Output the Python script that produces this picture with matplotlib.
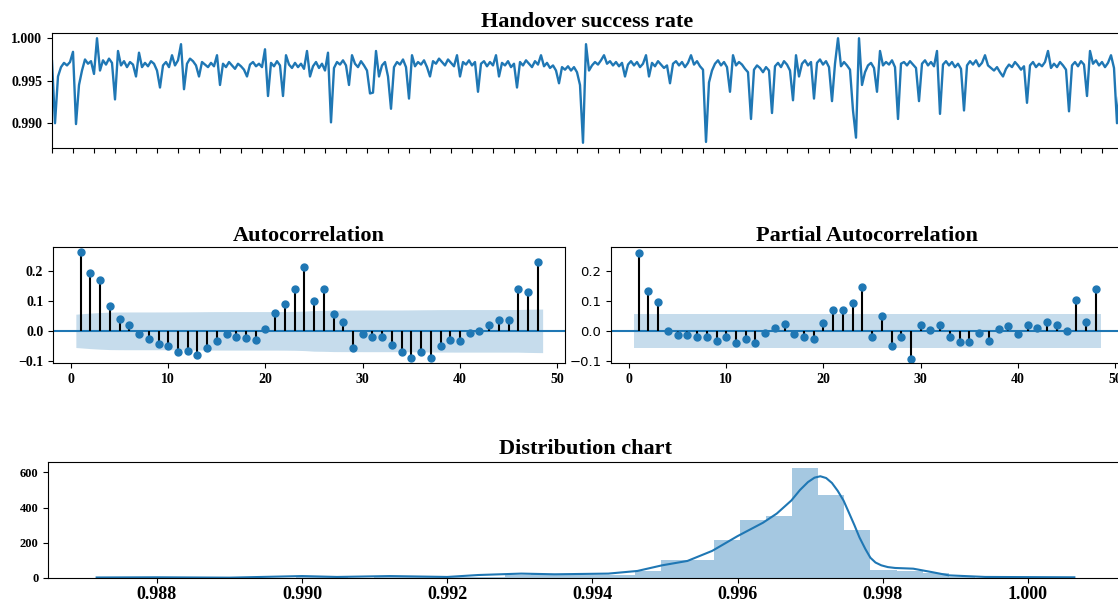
import numpy as np
import matplotlib
matplotlib.use("Agg")
import matplotlib.pyplot as plt
from matplotlib.ticker import MultipleLocator

# handover success rate, sampled roughly every 3 px of the original plot
hsr = [
    0.9973, 0.9900, 0.9955, 0.9966, 0.9971, 0.9968, 0.9972, 0.9984, 0.9899, 0.9945,
    0.9962, 0.9975, 0.9970, 0.9973, 0.9958, 1.0000, 0.9962, 0.9974, 0.9969, 0.9976,
    0.9971, 0.9928, 0.9985, 0.9968, 0.9973, 0.9966, 0.9972, 0.9969, 0.9955, 0.9983,
    0.9966, 0.9971, 0.9967, 0.9973, 0.9970, 0.9962, 0.9942, 0.9968, 0.9972, 0.9966,
    0.9980, 0.9968, 0.9974, 0.9993, 0.9940, 0.9970, 0.9976, 0.9973, 0.9968, 0.9955,
    0.9972, 0.9969, 0.9966, 0.9971, 0.9967, 0.9980, 0.9945, 0.9970, 0.9966, 0.9972,
    0.9968, 0.9964, 0.9970, 0.9967, 0.9963, 0.9955, 0.9969, 0.9972, 0.9967, 0.9970,
    0.9966, 0.9987, 0.9932, 0.9971, 0.9967, 0.9973, 0.9968, 0.9932, 0.9980, 0.9969,
    0.9965, 0.9971, 0.9966, 0.9970, 0.9964, 0.9985, 0.9955, 0.9967, 0.9972, 0.9965,
    0.9970, 0.9962, 0.9983, 0.9901, 0.9965, 0.9972, 0.9969, 0.9974, 0.9968, 0.9945,
    0.9980, 0.9970, 0.9966, 0.9973, 0.9968, 0.9962, 0.9935, 0.9936, 0.9985, 0.9955,
    0.9968, 0.9972, 0.9955, 0.9917, 0.9966, 0.9972, 0.9969, 0.9975, 0.9966, 0.9929,
    0.9980, 0.9967, 0.9972, 0.9969, 0.9974, 0.9966, 0.9955, 0.9973, 0.9970, 0.9976,
    0.9972, 0.9968, 0.9975, 0.9971, 0.9967, 0.9980, 0.9955, 0.9972, 0.9969, 0.9974,
    0.9968, 0.9972, 0.9937, 0.9970, 0.9973, 0.9967, 0.9972, 0.9968, 0.9980, 0.9955,
    0.9971, 0.9968, 0.9973, 0.9966, 0.9970, 0.9942, 0.9972, 0.9968, 0.9974, 0.9970,
    0.9966, 0.9973, 0.9969, 0.9980, 0.9967, 0.9971, 0.9965, 0.9968, 0.9962, 0.9947,
    0.9966, 0.9963, 0.9967, 0.9962, 0.9966, 0.9960, 0.9945, 0.9877, 0.9993, 0.9962,
    0.9968, 0.9972, 0.9969, 0.9974, 0.9980, 0.9970, 0.9973, 0.9968, 0.9972, 0.9967,
    0.9971, 0.9955, 0.9969, 0.9973, 0.9968, 0.9972, 0.9966, 0.9970, 0.9980, 0.9955,
    0.9971, 0.9967, 0.9973, 0.9969, 0.9965, 0.9968, 0.9947, 0.9970, 0.9973, 0.9968,
    0.9972, 0.9966, 0.9971, 0.9980, 0.9969, 0.9973, 0.9967, 0.9963, 0.9878, 0.9948,
    0.9962, 0.9970, 0.9974, 0.9968, 0.9972, 0.9966, 0.9937, 0.9980, 0.9968, 0.9972,
    0.9969, 0.9964, 0.9960, 0.9905, 0.9963, 0.9968, 0.9965, 0.9960, 0.9966, 0.9962,
    0.9912, 0.9967, 0.9971, 0.9966, 0.9973, 0.9969, 0.9962, 0.9927, 0.9980, 0.9955,
    0.9970, 0.9974, 0.9968, 0.9972, 0.9929, 0.9971, 0.9975, 0.9969, 0.9973, 0.9966,
    0.9926, 0.9970, 1.0000, 0.9967, 0.9972, 0.9968, 0.9963, 0.9915, 0.9883, 1.0000,
    0.9945, 0.9960, 0.9968, 0.9971, 0.9965, 0.9937, 0.9985, 0.9968, 0.9972, 0.9969,
    0.9974, 0.9966, 0.9905, 0.9970, 0.9972, 0.9968, 0.9973, 0.9969, 0.9965, 0.9926,
    0.9970, 0.9974, 0.9968, 0.9972, 0.9967, 0.9985, 0.9911, 0.9969, 0.9973, 0.9968,
    0.9972, 0.9966, 0.9970, 0.9964, 0.9915, 0.9968, 0.9973, 0.9969, 0.9974, 0.9967,
    0.9971, 0.9980, 0.9968, 0.9965, 0.9962, 0.9966, 0.9960, 0.9955, 0.9964, 0.9969,
    0.9966, 0.9972, 0.9968, 0.9963, 0.9967, 0.9924, 0.9968, 0.9972, 0.9966, 0.9970,
    0.9967, 0.9972, 0.9985, 0.9965, 0.9970, 0.9966, 0.9972, 0.9968, 0.9963, 0.9914,
    0.9968, 0.9972, 0.9967, 0.9973, 0.9969, 0.9932, 0.9985, 0.9970, 0.9974, 0.9968,
    0.9972, 0.9966, 0.9971, 0.9980, 0.9965, 0.9900, 0.9945, 0.9965,
]

# autocorrelation, lags 1..48
acf_vals = [
    0.262, 0.192, 0.168, 0.083, 0.040, 0.020, -0.011, -0.027, -0.043, -0.052,
    -0.069, -0.066, -0.080, -0.058, -0.033, -0.009, -0.019, -0.024, -0.030, 0.007,
    0.061, 0.089, 0.140, 0.211, 0.100, 0.140, 0.056, 0.028, -0.056, -0.009,
    -0.019, -0.019, -0.047, -0.072, -0.091, -0.072, -0.091, -0.052, -0.030, -0.033,
    -0.006, -0.002, 0.018, 0.036, 0.036, 0.140, 0.128, 0.228,
]

# partial autocorrelation, lags 1..48
pacf_vals = [
    0.260, 0.134, 0.097, 0.000, -0.015, -0.015, -0.022, -0.022, -0.034, -0.022,
    -0.041, -0.026, -0.041, -0.008, 0.011, 0.022, -0.011, -0.022, -0.026, 0.026,
    0.069, 0.069, 0.093, 0.145, -0.022, 0.050, -0.050, -0.022, -0.095, 0.019,
    0.003, 0.019, -0.022, -0.037, -0.037, -0.008, -0.034, 0.006, 0.015, -0.011,
    0.020, 0.011, 0.028, 0.020, 0.000, 0.101, 0.028, 0.140,
]
nobs = 1250

# histogram: first bin edge, bin width, counts
hist_start = 0.98775
hist_width = 0.00036
hist_counts = [
    3, 2, 1, 1, 2, 1, 4, 3, 2, 3, 4, 3, 3, 5, 18, 20, 19, 17, 18, 40,
    100, 105, 215, 330, 350, 625, 470, 272, 45, 40, 30, 8, 2, 2,
]

# kde curve (in count units)
kde_x = [0.98717, 0.9880, 0.9890, 0.9900, 0.99048, 0.99121, 0.9920, 0.99243,
         0.99302, 0.99348, 0.99422, 0.99462, 0.99496, 0.99531, 0.99565, 0.99600,
         0.99635, 0.99654, 0.99674, 0.99686, 0.99697, 0.99706, 0.99714, 0.99722,
         0.99730, 0.99738, 0.99746, 0.99753, 0.99761, 0.99768, 0.99776, 0.99783,
         0.99790, 0.99798, 0.99807, 0.99817, 0.99842, 0.99867, 0.99891, 0.99941,
         1.00064]
kde_y = [3, 4, 2, 11, 6, 11, 6, 17,
         25, 21, 25, 40, 72, 97, 154, 238,
         314, 366, 440, 500, 545, 570, 578, 568,
         540, 495, 440, 375, 300, 230, 165, 115,
         88, 72, 62, 57, 53, 34, 15, 6,
         4]

blue = '#1f77b4'
serif_b = dict(family='Liberation Serif', weight='bold')

fig = plt.figure(figsize=(11.18, 6.05), dpi=100)
W, H = 1118.0, 605.0

def box(l, t, r, b):
    return [l / W, 1 - b / H, (r - l) / W, (b - t) / H]

def style_ticks(ax, size=10):
    for lab in ax.get_xticklabels() + ax.get_yticklabels():
        lab.set_fontfamily(serif_b['family'])
        lab.set_fontweight('bold')
        lab.set_fontsize(size)

# --- top: time series
ax1 = fig.add_axes(box(52, 33, 1123, 148))
ax1.plot(np.arange(len(hsr)), hsr, color=blue, lw=1.7)
ax1.set_xlim(0, len(hsr) - 1)
ax1.xaxis.set_major_locator(MultipleLocator(7))
ax1.tick_params(labelbottom=False)
ax1.set_yticks([0.990, 0.995, 1.000])
ax1.set_yticklabels(['0.990', '0.995', '1.000'])
style_ticks(ax1, 10)
ax1.set_title('Handover success rate', fontsize=16, pad=4, **serif_b)

def corr_panel(ax, vals, conf):
    lags = np.arange(1, len(vals) + 1)
    band_x = lags.astype(float)
    band_x[0] -= 0.5
    band_x[-1] += 0.5
    ax.fill_between(band_x, -conf, conf, color=blue, alpha=0.25, lw=0)
    ax.axhline(0, color=blue, lw=1.5)
    ax.vlines(lags, 0, vals, color='k', lw=1.5)
    ax.plot(lags, vals, 'o', color=blue, ms=5)
    ax.set_xlim(-1.85, 50.8)
    ax.set_ylim(-0.107, 0.279)
    ax.set_xticks([0, 10, 20, 30, 40, 50])
    ax.set_yticks([-0.1, 0.0, 0.1, 0.2])

# Bartlett bands for the acf, constant band for the pacf
acf_arr = np.array(acf_vals)
acf_var = np.ones(len(acf_arr)) / nobs
acf_var[1:] *= 1 + 2 * np.cumsum(acf_arr[:-1] ** 2)
acf_conf = 1.96 * np.sqrt(acf_var)
pacf_conf = np.full(len(pacf_vals), 1.96 / np.sqrt(nobs))

ax2 = fig.add_axes(box(53, 247, 565, 363))
corr_panel(ax2, acf_vals, acf_conf)
style_ticks(ax2, 10)
ax2.set_title('Autocorrelation', fontsize=16, pad=4, **serif_b)

ax3 = fig.add_axes(box(611, 247, 1123, 363))
corr_panel(ax3, pacf_vals, pacf_conf)
for lab in ax3.get_yticklabels():
    lab.set_fontsize(9.5)
for lab in ax3.get_xticklabels():
    lab.set_fontfamily(serif_b['family'])
    lab.set_fontweight('bold')
    lab.set_fontsize(10)
ax3.set_title('Partial Autocorrelation', fontsize=16, pad=4, **serif_b)

# --- bottom: distribution
ax4 = fig.add_axes(box(48, 462, 1123, 578))
edges = hist_start + hist_width * np.arange(len(hist_counts) + 1)
ax4.bar(edges[:-1], hist_counts, width=hist_width, align='edge',
        color=blue, alpha=0.4, lw=0)
ax4.plot(kde_x, kde_y, color=blue, lw=1.5)
ax4.set_xlim(0.98650, 1.00131)
ax4.set_ylim(0, 659)
ax4.set_yticks([0, 200, 400, 600])
ax4.set_xticks([0.988, 0.990, 0.992, 0.994, 0.996, 0.998, 1.000])
ax4.set_xticklabels(['0.988', '0.990', '0.992', '0.994', '0.996', '0.998', '1.000'])
style_ticks(ax4, 9)
ax4.tick_params(axis='x', pad=2)
for lab in ax4.get_xticklabels():
    lab.set_fontsize(13)
ax4.set_title('Distribution chart', fontsize=16, pad=6, **serif_b)

fig.savefig('out.png', dpi=100)
